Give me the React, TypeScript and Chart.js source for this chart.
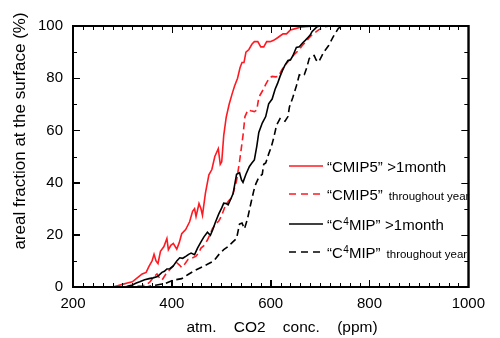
import React, { useEffect, useRef } from "react";
import { Chart, registerables } from "chart.js";

Chart.register(...registerables);

// ---- data ----
const cmip5MonthX = [280, 290, 300, 310, 320, 330, 340, 348, 354, 360, 364, 368, 372, 377, 384, 390, 393, 398, 403, 410, 415, 420, 428, 436, 442, 446, 449, 455, 459, 462, 468, 475, 481, 487, 494, 498, 501, 505, 510, 516, 522, 527, 533, 538, 542, 546, 550, 556, 562, 567, 574, 580, 586, 592, 599, 606, 614, 625, 632, 640, 650, 660, 670, 690, 925];
const cmip5MonthY = [0, 0.5, 1, 1.5, 2, 3.5, 5, 5.6, 8, 10, 12.5, 10, 9, 13.7, 15.5, 18.6, 14.3, 16, 16.7, 14.5, 17, 20.4, 22, 25, 29, 30, 27, 32, 30, 27.5, 36, 43, 45, 50, 53, 47, 48, 58, 65, 70, 74, 77, 80, 84, 86, 86, 90, 91, 93, 94, 94, 92, 92, 94, 94, 94.5, 95.5, 97, 97, 98.5, 99, 99.5, 99.7, 100, 100];

const cmip5YearX = [286, 300, 320, 340, 348, 356, 364, 370, 375, 380, 388, 397, 403, 410, 415, 420, 427, 433, 440, 449, 454, 459, 466, 472, 477, 482, 488, 495, 500, 508, 515, 520, 524, 531, 537, 544, 548, 554, 560, 567, 572, 576, 583, 590, 597, 603, 610, 616, 622, 629, 636, 642, 650, 658, 664, 671, 678, 684, 690, 697, 704, 710, 720, 900];
const cmip5YearY = [0, 0, 0.3, 0.5, 0.7, 2, 4, 5, 3.5, 2.6, 5, 6.9, 8, 9.3, 8.5, 7.5, 9, 10.6, 11, 11.8, 13, 14.9, 16, 18, 20, 22.3, 24, 25.3, 27, 31, 33, 34, 35.8, 40.7, 48, 58, 65.3, 67.8, 67.5, 67.2, 67.8, 72.7, 75, 77.6, 80, 80.7, 80.5, 80.7, 83, 85, 86.5, 88, 89.5, 91, 92.5, 94, 95.5, 96.7, 97.5, 98.5, 99.2, 99.7, 100, 100];

const c4mipMonthX = [306, 312, 320, 328, 335, 345, 354, 362, 371, 380, 385, 390, 396, 403, 410, 416, 422, 429, 434, 439, 446, 452, 459, 465, 472, 478, 483, 488, 495, 501, 505, 510, 514, 520, 524, 531, 537, 541, 544, 550, 557, 562, 567, 572, 576, 583, 590, 596, 603, 609, 614, 619, 624, 629, 635, 640, 645, 652, 658, 665, 670, 675, 680, 684, 690, 694, 700, 900];
const c4mipMonthY = [0, 0.4, 0.8, 1.5, 2, 2.8, 3.2, 3.5, 4, 5.6, 6, 6.9, 7, 8.1, 10, 11.2, 11, 11.8, 12.5, 13, 12.4, 14.9, 17.3, 19.2, 21, 19.8, 22, 24.7, 28, 30.3, 32.1, 32, 31.5, 34, 35.8, 43.2, 43.8, 41, 40.1, 43.2, 46.2, 47.5, 48.7, 54, 59.2, 62.8, 65.3, 70.2, 72, 75.8, 78, 80.7, 83, 85, 86.8, 87, 88.6, 91.8, 92, 93.6, 94.5, 95.5, 96.5, 97.9, 99, 99.7, 100, 100];

const c4mipYearX = [322, 348, 367, 387, 403, 420, 433, 446, 459, 472, 485, 495, 505, 514, 522, 531, 537, 542, 547, 553, 560, 566, 570, 576, 583, 586, 590, 596, 601, 606, 612, 619, 624, 629, 635, 638, 645, 652, 658, 663, 668, 673, 678, 684, 688, 692, 697, 702, 707, 717, 727, 737, 745, 880];
const c4mipYearY = [0, 0, 0.7, 1.4, 2.6, 3.2, 4.8, 6.3, 7.5, 8.7, 10, 12.4, 14.3, 15.5, 17, 18.6, 24.1, 24.5, 22.3, 26, 32.1, 37, 39.5, 42, 43.2, 47, 47.5, 51, 53.5, 57, 62, 64.5, 64, 63.5, 65.3, 69, 72.7, 77, 81.3, 81, 81.3, 84, 87.5, 88.5, 88.7, 87, 86.2, 88, 89.9, 92.4, 96, 99.1, 100, 100];

const legendMain = ["“CMIP5”", "“CMIP5”", "“C4MIP”", "“C4MIP”"];
const legendSuffix = [">1month", "throughout year", ">1month", "throughout year"];
const xTitle = "atm.    CO2    conc.    (ppm)";
const yTitle = "areal fraction at the surface (%)";

const RED = "#ff1a22";
const BLACK = "#000000";
const FONT = "'Liberation Sans', Arial, sans-serif";

const toPts = (xs: number[], ys: number[]) => xs.map((x, i) => ({ x, y: ys[i] }));

const seriesColors = [RED, RED, BLACK, BLACK];
const seriesDash = [[], [7, 4], [], [7, 4]];

function drawFrame(chart: any) {
  const ctx = chart.ctx as CanvasRenderingContext2D;
  const xs = chart.scales.x;
  const ys = chart.scales.y;
  const L = xs.getPixelForValue(200);
  const R = xs.getPixelForValue(1000);
  const T = ys.getPixelForValue(100);
  const B = ys.getPixelForValue(0);
  ctx.save();
  ctx.setLineDash([]);
  ctx.globalCompositeOperation = "source-over";
  ctx.strokeStyle = "#000";
  ctx.lineWidth = 1;
  ctx.beginPath();
  for (let v = 200; v <= 1000; v += 20) {
    const px = Math.round(xs.getPixelForValue(v)) + 0.5;
    const len = v % 200 === 0 ? 7 : 4;
    ctx.moveTo(px, B);
    ctx.lineTo(px, B - len);
    ctx.moveTo(px, T);
    ctx.lineTo(px, T + len);
  }
  for (let v = 0; v <= 100; v += 10) {
    const py = Math.round(ys.getPixelForValue(v)) + 0.5;
    const len = v % 20 === 0 ? 7 : 4;
    ctx.moveTo(L, py);
    ctx.lineTo(L + len, py);
    ctx.moveTo(R, py);
    ctx.lineTo(R - len, py);
  }
  ctx.stroke();
  ctx.lineWidth = 2;
  ctx.strokeRect(L, T, R - L, B - T);
  ctx.restore();
}

function drawTexts(chart: any) {
  const ctx = chart.ctx as CanvasRenderingContext2D;
  ctx.save();
  ctx.fillStyle = "#000";
  ctx.font = `15.5px ${FONT}`;
  ctx.textAlign = "center";
  ctx.textBaseline = "middle";
  ctx.fillText(xTitle, 282, 328);
  ctx.save();
  ctx.translate(25, 131);
  ctx.rotate(-Math.PI / 2);
  ctx.font = `17px ${FONT}`;
  ctx.textBaseline = "alphabetic";
  ctx.fillText(yTitle, 0, 0);
  ctx.restore();

  const rows = [166, 194, 224, 252];
  ctx.textAlign = "left";
  ctx.textBaseline = "alphabetic";
  rows.forEach((ry, i) => {
    ctx.strokeStyle = seriesColors[i];
    ctx.lineWidth = 1.6;
    ctx.setLineDash(i % 2 === 1 ? [7, 5] : []);
    ctx.beginPath();
    ctx.moveTo(289, ry);
    ctx.lineTo(323, ry);
    ctx.stroke();
    ctx.setLineDash([]);
    let tx = 327;
    const base = ry + 6;
    const main = legendMain[i];
    ctx.font = `15px ${FONT}`;
    if (main.includes("4")) {
      const [pre, post] = main.split("4");
      ctx.fillText(pre, tx, base);
      tx += ctx.measureText(pre).width;
      ctx.font = `10px ${FONT}`;
      ctx.fillText("4", tx + 0.5, base - 5);
      tx += ctx.measureText("4").width + 0.5;
      ctx.font = `15px ${FONT}`;
      ctx.fillText(post, tx, base);
      tx += ctx.measureText(post).width;
    } else {
      ctx.fillText(main, tx, base);
      tx += ctx.measureText(main).width;
    }
    const suf = legendSuffix[i];
    if (suf === ">1month") {
      ctx.font = `15px ${FONT}`;
      tx += 4.5;
      ctx.fillText(suf, tx, base);
    } else {
      ctx.font = `11.5px ${FONT}`;
      tx += 6;
      ctx.fillText(suf, tx, base);
    }
  });
  ctx.restore();
}

const framePlugin = {
  id: "frameTicks",
  afterDraw(chart: any) {
    drawTexts(chart);
  },
  afterRender(chart: any) {
    drawFrame(chart);
  },
};

const borderOpts = { display: true, color: "#000", width: 1.6 };
const hiddenGrid = { display: false, drawTicks: false };

export default function App() {
  const ref = useRef<HTMLCanvasElement>(null);
  useEffect(() => {
    if (!ref.current) return;
    const datasets = [
      toPts(cmip5MonthX, cmip5MonthY),
      toPts(cmip5YearX, cmip5YearY),
      toPts(c4mipMonthX, c4mipMonthY),
      toPts(c4mipYearX, c4mipYearY),
    ].map((data, i) => ({
      label: legendMain[i] + " " + legendSuffix[i],
      data,
      xAxisID: "x",
      yAxisID: "y",
      borderColor: seriesColors[i],
      backgroundColor: seriesColors[i],
      borderWidth: 1.6,
      borderDash: seriesDash[i],
      pointRadius: 0,
      tension: 0,
    }));
    const ordered = [datasets[3], datasets[2], datasets[1], datasets[0]];
    const chart = new Chart(ref.current, {
      type: "line",
      data: { datasets: ordered },
      options: {
        animation: false,
        responsive: false,
        layout: { padding: { top: 7, right: 7 } },
        plugins: { legend: { display: false }, tooltip: { enabled: false } },
        scales: {
          x: {
            type: "linear",
            position: "bottom",
            min: 200,
            max: 1000,
            afterFit: (s: any) => { s.height = 51; },
            grid: { display: true, drawOnChartArea: false, drawTicks: true, tickLength: -7, color: "#000", lineWidth: 1 },
            border: borderOpts,
            ticks: { stepSize: 200, padding: 15, color: "#000", font: { family: FONT, size: 15 }, maxRotation: 0, callback: (v: any) => String(v) },
          },
          x2: {
            type: "linear",
            position: "top",
            min: 200,
            max: 1000,
            afterFit: (s: any) => { s.height = 0; },
            grid: hiddenGrid,
            border: borderOpts,
            ticks: { display: false, stepSize: 200 },
          },
          y: {
            type: "linear",
            position: "left",
            min: 0,
            max: 100,
            afterFit: (s: any) => { s.width = 73; },
            grid: { display: true, drawOnChartArea: false, drawTicks: true, tickLength: -7, color: "#000", lineWidth: 1 },
            border: borderOpts,
            ticks: { stepSize: 20, padding: 17, color: "#000", font: { family: FONT, size: 15 }, callback: (v: any) => String(v) },
          },
          y2: {
            type: "linear",
            position: "right",
            min: 0,
            max: 100,
            afterFit: (s: any) => { s.width = 0; },
            grid: hiddenGrid,
            border: borderOpts,
            ticks: { display: false, stepSize: 20 },
          },
        },
      },
      plugins: [framePlugin],
    });
    return () => chart.destroy();
  }, []);
  return (
    <div style={{ position: "absolute", left: 0, top: 0, width: 500, height: 338 }}>
      <canvas ref={ref} width={500} height={338} style={{ width: 500, height: 338 }} />
    </div>
  );
}
